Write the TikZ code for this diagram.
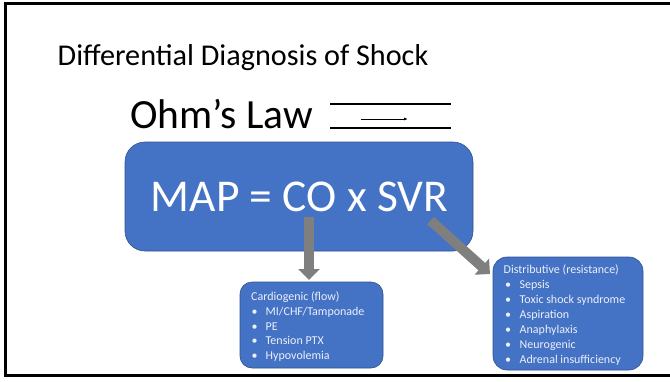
\documentclass[tikz,border=0pt]{standalone}
\usepackage{fontspec}
\setmainfont{Carlito}
\usetikzlibrary{arrows.meta}
\definecolor{boxblue}{HTML}{4472C4}
\definecolor{boxedge}{HTML}{2F528F}
\definecolor{arrowgray}{HTML}{7F7F7F}
\definecolor{lighttext}{RGB}{236,240,250}
\tikzset{
  bluebox/.style={draw=boxedge, line width=0.6pt, fill=boxblue},
  smalltxt/.style={anchor=base west, inner sep=0pt, text=lighttext, font=\fontsize{12}{14}\selectfont},
  bigarrow/.style={draw=arrowgray, line width=10pt, -{Triangle[length=11pt,width=21pt]}, arrowgray},
  frameline/.style={line width=3pt, black}
}
\begin{document}
\begin{tikzpicture}[x=1pt,y=-1pt]
\useasboundingbox (0,0) rectangle (670,381);
% frame
\draw[frameline] (670,3.5) -- (5.3,3.5) -- (5.3,375.3) -- (670,375.3);
% title
\node[anchor=base west, inner sep=0pt, font=\fontsize{30.2}{36}\selectfont] (title) at (57.5,65) {Differential Diagnosis of Shock};
\node[anchor=base west, inner sep=0pt, font=\fontsize{41.5}{46}\selectfont] (ohm) at (130,128) {Ohm’s Law};
% lines
\coordinate (l1a) at (330,104); \coordinate (l1b) at (451,104);
\coordinate (l2a) at (330,128); \coordinate (l2b) at (451,128);
\coordinate (ara) at (361,119); \coordinate (arb) at (408,119);
\draw[line width=1.5pt] (l1a) -- (l1b);
\draw[line width=1.5pt] (l2a) -- (l2b);
\draw[line width=0.8pt, -{Latex[length=4pt,width=3pt]}] (ara) -- (arb);
% main box
\path[bluebox, rounded corners=20pt] (125,142) rectangle (473,251);
\node[anchor=base, inner sep=0pt, text=white, font=\fontsize{45.5}{50}\selectfont] (map) at (299.5,211.7) {MAP = CO x SVR};
% small boxes
\path[bluebox, rounded corners=12pt] (240,282) rectangle (383,368);
\path[bluebox, rounded corners=14pt] (493,257) rectangle (643,370);
% arrows
\coordinate (s1) at (309,217);
\coordinate (t1) at (309,280);
\draw[bigarrow] (s1) -- (t1);
\coordinate (s2) at (430.5,220.5);
\coordinate (t2) at (490,274);
\draw[bigarrow] (s2) -- (t2);
% cardiogenic text
\node[smalltxt] (c0) at (251,300.5) {Cardiogenic (flow)};
\node[smalltxt] (cb1) at (251.5,315.3) {•};
\node[smalltxt] (ct1) at (265.5,315.3) {MI/CHF/Tamponade};
\node[smalltxt] (cb2) at (251.5,330) {•};
\node[smalltxt] (ct2) at (265.5,330) {PE};
\node[smalltxt] (cb3) at (251.5,344.6) {•};
\node[smalltxt] (ct3) at (265.5,344.6) {Tension PTX};
\node[smalltxt] (cb4) at (251.5,359.5) {•};
\node[smalltxt] (ct4) at (265.5,359.5) {Hypovolemia};
% distributive text
\node[smalltxt] (d0) at (503.5,273) {Distributive (resistance)};
\foreach \y/\t [count=\i] in {288/Sepsis,303/Toxic shock syndrome,318/Aspiration,333/Anaphylaxis,348/Neurogenic,363/Adrenal insufficiency}{
  \node[smalltxt] (db\i) at (505,\y) {•};
  \node[smalltxt] (dt\i) at (519.5,\y) {\t};
}
\end{tikzpicture}
\end{document}
